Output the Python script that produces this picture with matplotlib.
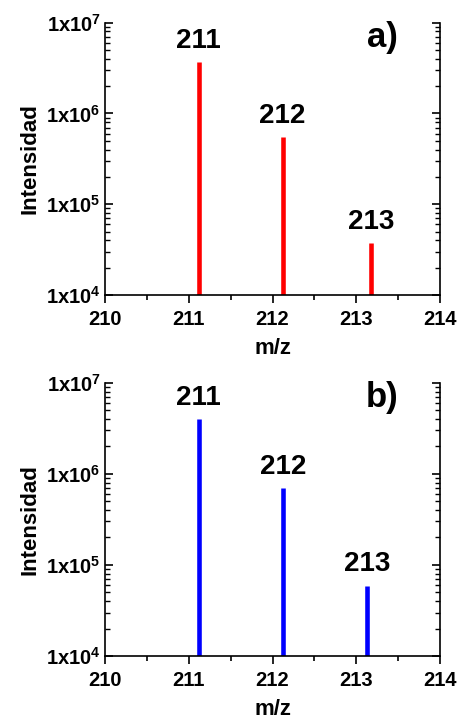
import matplotlib
matplotlib.use("Agg")
import matplotlib.pyplot as plt
from matplotlib.ticker import LogLocator, FixedLocator, NullFormatter

plt.rcParams['font.family'] = ['Liberation Sans', 'DejaVu Sans']
plt.rcParams['font.weight'] = 'bold'
plt.rcParams['mathtext.fontset'] = 'custom'
plt.rcParams['mathtext.rm'] = 'Liberation Sans:bold'
plt.rcParams['mathtext.bf'] = 'Liberation Sans:bold'
plt.rcParams['mathtext.it'] = 'Liberation Sans:bold'

# peaks (m/z, intensity)
mz_a = [211.12, 212.12, 213.18]
int_a = [3.7e6, 5.5e5, 3.7e4]
mz_b = [211.12, 212.13, 213.13]
int_b = [4.0e6, 7.0e5, 5.9e4]
peak_labels = ['211', '212', '213']
panel_labels = ['a)', 'b)']
colors = ['#ff0000', '#0000ff']

xticks = [210, 211, 212, 213, 214]
yticks = [1e4, 1e5, 1e6, 1e7]
ytick_labels = [r'1x10$^{4}$', r'1x10$^{5}$', r'1x10$^{6}$', r'1x10$^{7}$']

fig = plt.figure(figsize=(4.64, 7.23), dpi=100)
ax_top = fig.add_axes([0.2263, 0.592, 0.722, 0.3766])
ax_bot = fig.add_axes([0.2263, 0.0927, 0.722, 0.378])

for ax, mz, inten, col, plab in [(ax_top, mz_a, int_a, colors[0], panel_labels[0]),
                                 (ax_bot, mz_b, int_b, colors[1], panel_labels[1])]:
    ax.set_yscale('log')
    ax.vlines(mz, 1e4, inten, color=col, linewidth=3.3)
    for x, y, t in zip(mz, inten, peak_labels):
        ax.annotate(t, (x, y), xytext=(0, 6), textcoords='offset points',
                    ha='center', va='bottom', fontsize=20, fontweight='bold')
    ax.text(0.827, 0.945, plab, transform=ax.transAxes, ha='center', va='center',
            fontsize=25, fontweight='bold')

    ax.set_xlim(210, 214)
    ax.set_ylim(1e4, 1e7)
    ax.set_xticks(xticks)
    ax.set_xticklabels([str(v) for v in xticks])
    ax.xaxis.set_minor_locator(FixedLocator([210.5, 211.5, 212.5, 213.5]))
    ax.set_yticks(yticks)
    ax.set_yticklabels(ytick_labels)
    ax.yaxis.set_minor_locator(LogLocator(base=10, subs=range(2, 10)))
    ax.yaxis.set_minor_formatter(NullFormatter())

    ax.spines['top'].set_visible(False)
    for s in ['left', 'right', 'bottom']:
        ax.spines[s].set_linewidth(1.2)

    ax.tick_params(axis='x', which='major', direction='out', length=6, width=1.2,
                   pad=5, labelsize=14.5)
    ax.tick_params(axis='x', which='minor', direction='out', length=3.5, width=1.2)
    ax.tick_params(axis='y', which='major', direction='in', length=6, width=1.2,
                   pad=3, labelsize=14.5, right=True)
    ax.tick_params(axis='y', which='minor', direction='in', length=3.5, width=1.0,
                   right=True)
    for lab in ax.get_xticklabels() + ax.get_yticklabels():
        lab.set_fontweight('bold')

    ax.set_xlabel('m/z', fontsize=16, fontweight='bold', labelpad=6)
    ax.set_ylabel('Intensidad', fontsize=16, fontweight='bold', labelpad=4)

fig.savefig('out.png', dpi=100)
